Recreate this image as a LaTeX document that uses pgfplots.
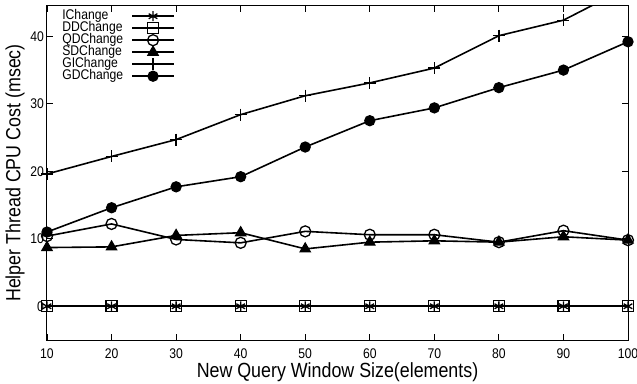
\documentclass[border=0pt]{standalone}
\usepackage{fontspec}
\setmainfont[FakeStretch=0.87]{Liberation Sans}
\usepackage{pgfplots}
\pgfplotsset{compat=1.18}
\begin{document}
\begin{tikzpicture}
\begin{axis}[
  at={(0,0)}, anchor=south west,
  scale only axis, width=581pt, height=334pt,
  xmin=10, xmax=100, ymin=-5, ymax=44.5,
  xtick={10,20,...,100}, ytick={0,10,20,30,40},
  tick align=inside, major tick length=6pt,
  tick style={line width=0.8pt, black},
  axis line style={line width=1pt},
  /pgf/number format/assume math mode=true,
  ticklabel style={font=\fontsize{14}{16}\selectfont},
  xticklabel style={anchor=base, yshift=-18pt},
  yticklabel style={xshift=0.5pt},
  label style={font=\fontsize{20.5}{22}\selectfont},
  xlabel={New Query Window Size(elements)},
  ylabel={Helper Thread CPU Cost (msec)},
  xlabel style={at={(axis description cs:0.5,-0.111)}, anchor=base},
  ylabel style={at={(axis description cs:-0.055,0.5)}, anchor=center},
  legend style={at={(axis description cs:0.026,0.988)}, anchor=north west,
    draw=none, fill=none, font=\fontsize{14}{12}\selectfont,
    inner sep=0pt, row sep=0pt,
    nodes={inner sep=0pt, text height=9pt, text depth=3pt},
    /tikz/every odd column/.append style={column sep=8pt}},
  legend plot pos=right, legend cell align=left,
  legend image code/.code={\draw[mark repeat=2,mark phase=2,#1] plot coordinates {(0pt,0pt) (21pt,0pt) (42pt,0pt)};},
  every axis plot/.append style={black, line width=1.6pt, mark options={solid, line width=1.3pt}},
]
\addplot[mark=asterisk, mark size=5pt] coordinates {(10,0) (20,0) (30,0) (40,0) (50,0) (60,0) (70,0) (80,0) (90,0) (100,0)};
\addlegendentry{IChange}
\addplot[mark=square, mark size=5.5pt] coordinates {(10,0) (20,0) (30,0) (40,0) (50,0) (60,0) (70,0) (80,0) (90,0) (100,0)};
\addlegendentry{DDChange}
\addplot[mark=o, mark size=5.5pt] coordinates {(10,10.4) (20,12.2) (30,9.9) (40,9.4) (50,11.1) (60,10.6) (70,10.6) (80,9.5) (90,11.2) (100,9.8)};
\addlegendentry{QDChange}
\addplot[mark=triangle*, mark size=5.8pt] coordinates {(10,8.7) (20,8.8) (30,10.5) (40,10.9) (50,8.5) (60,9.5) (70,9.7) (80,9.5) (90,10.3) (100,9.8)};
\addlegendentry{SDChange}
\addplot[mark=+, mark size=6pt] coordinates {(10,19.6) (20,22.2) (30,24.7) (40,28.4) (50,31.2) (60,33.1) (70,35.3) (80,40.1) (90,42.4) (100,47.3)};
\addlegendentry{GIChange}
\addplot[mark=*, mark size=5pt] coordinates {(10,11.0) (20,14.6) (30,17.7) (40,19.2) (50,23.6) (60,27.5) (70,29.4) (80,32.4) (90,35.0) (100,39.2)};
\addlegendentry{GDChange}
\end{axis}
\pgfresetboundingbox
\path (-47pt,-43pt) rectangle (590pt,340pt);
\end{tikzpicture}
\end{document}
